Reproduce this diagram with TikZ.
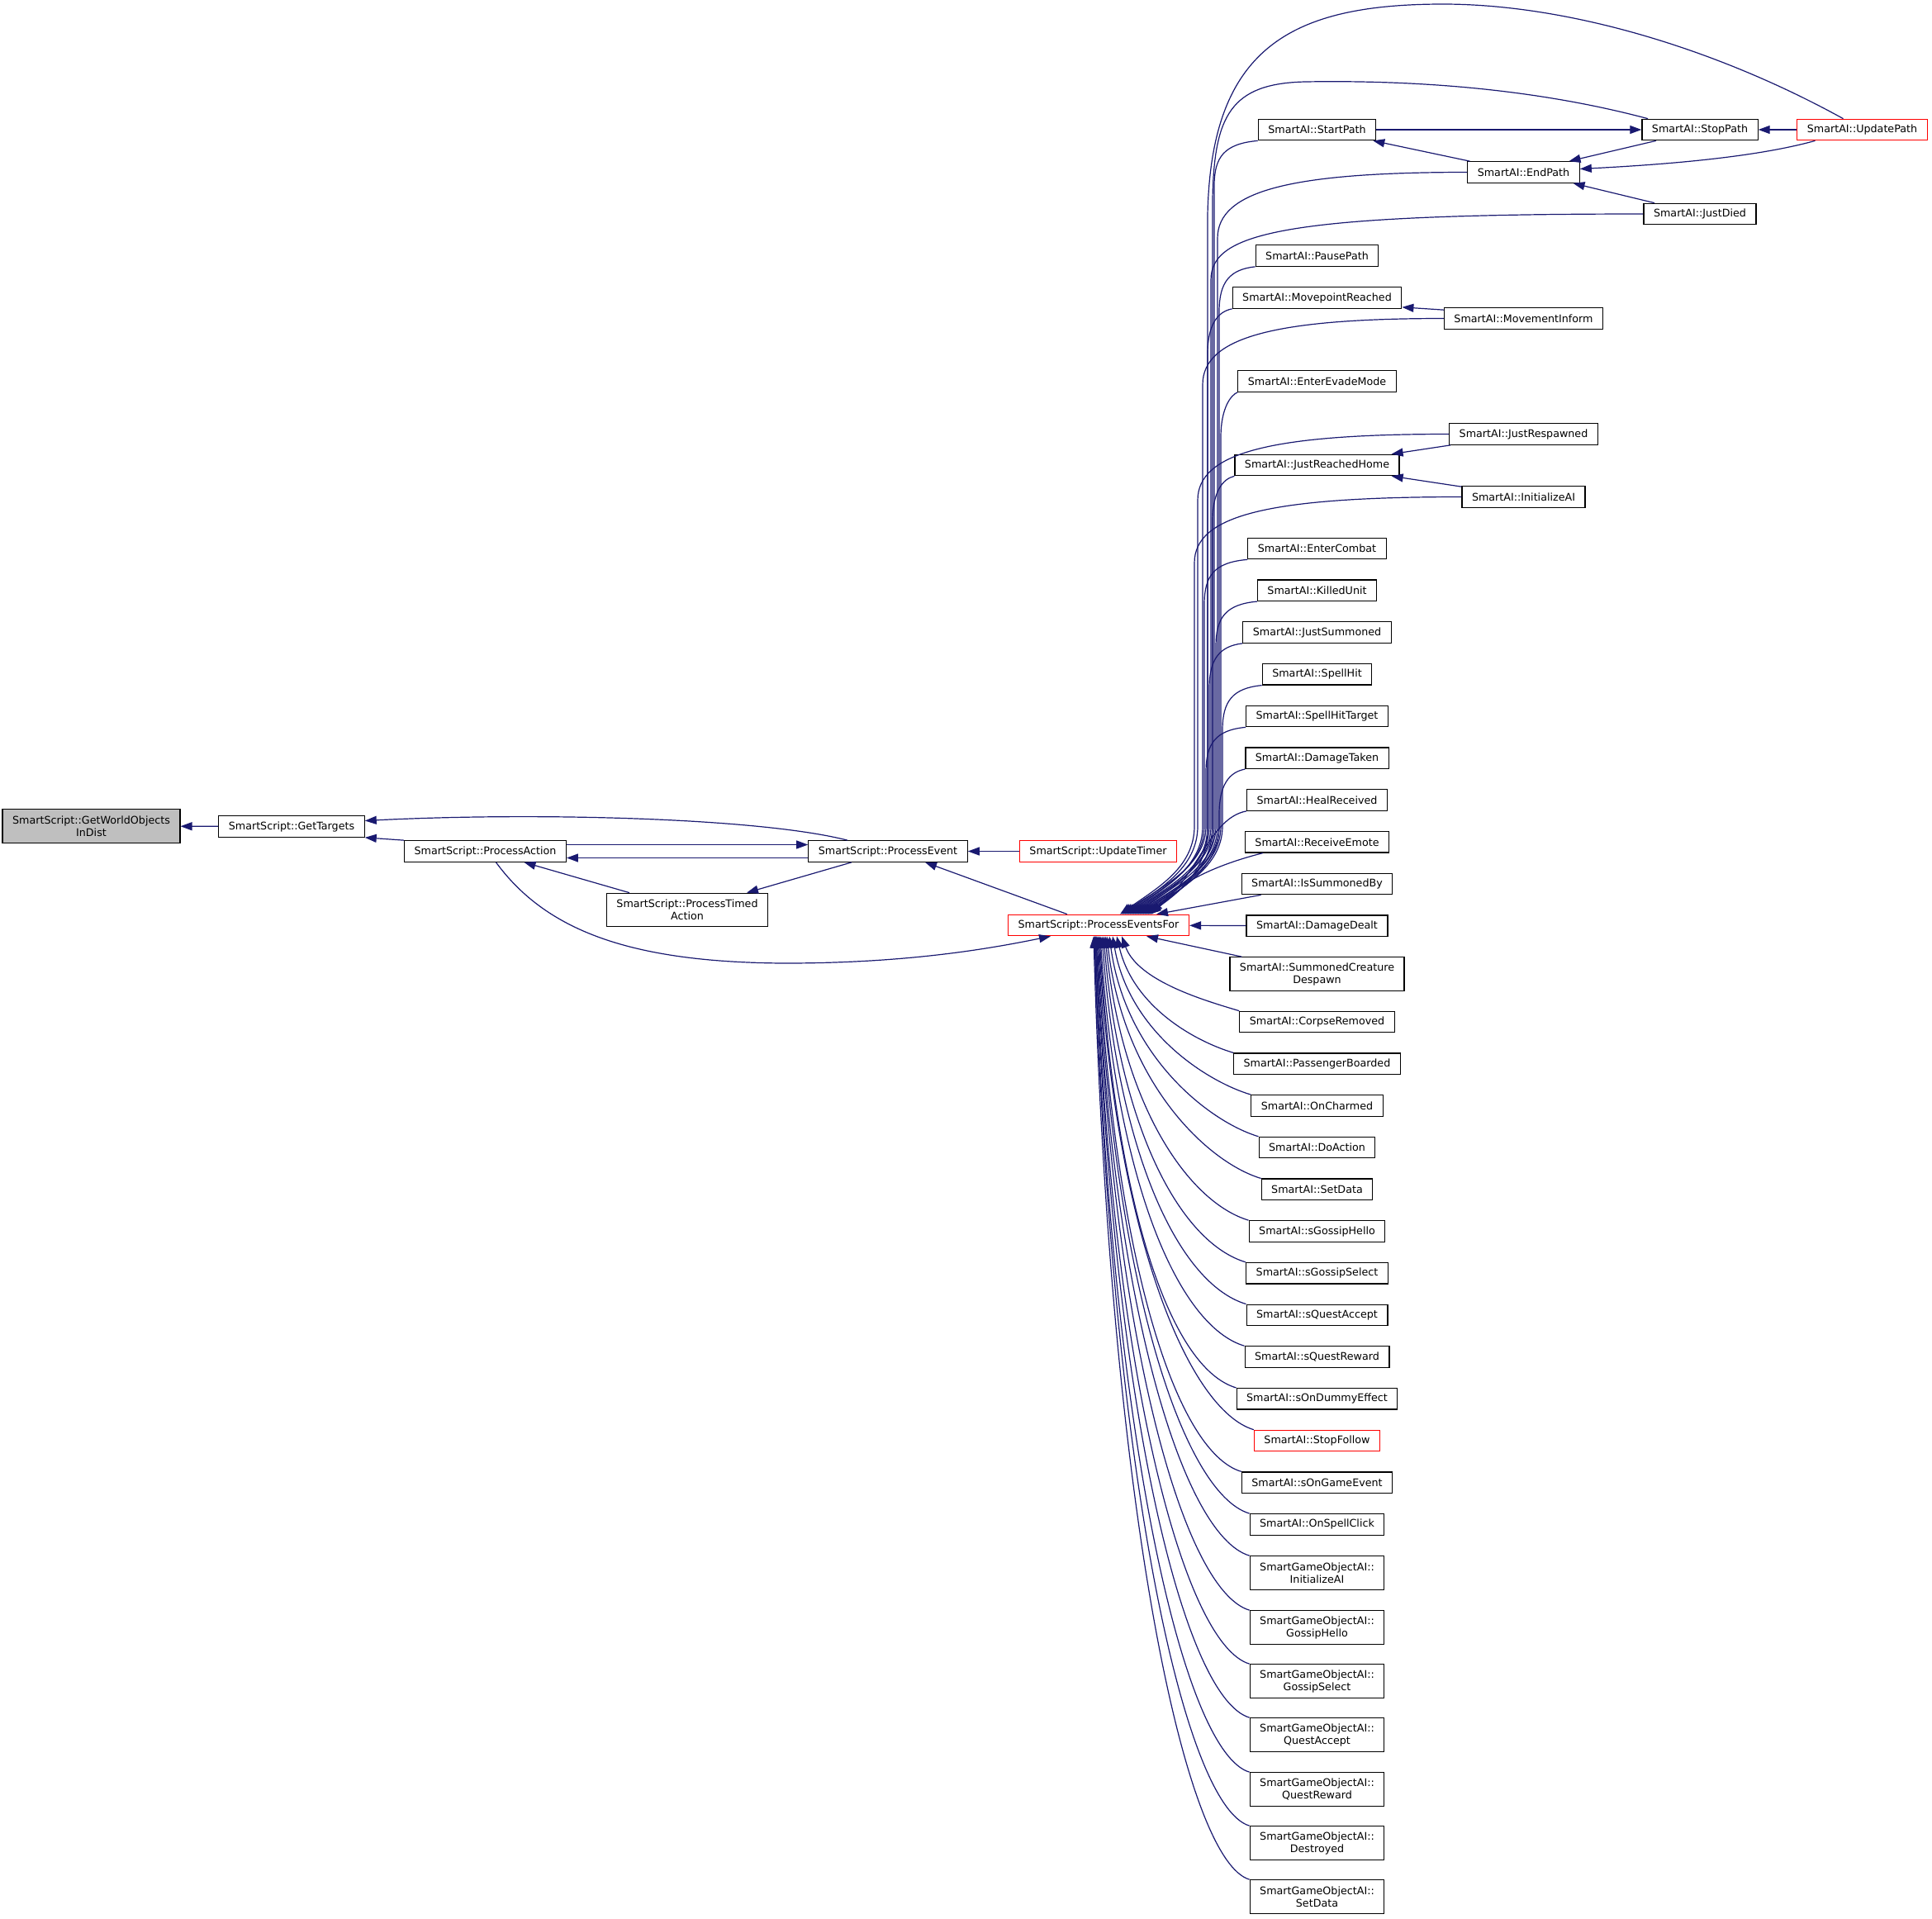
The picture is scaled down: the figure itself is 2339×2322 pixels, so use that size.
\documentclass[tikz,border=0pt]{standalone}
\usepackage{fontspec}
\newfontfamily\dxfont{DejaVu Sans}
\usetikzlibrary{arrows.meta}
\definecolor{edgeblue}{HTML}{191970}
\tikzset{
  fnbox/.style={draw=black, line width=1.2pt, rectangle, inner xsep=12pt, inner ysep=2pt,
    minimum height=25.5pt, align=center, font=\dxfont\fontsize{12.7pt}{15pt}\selectfont},
  twobox/.style={fnbox, minimum height=40.5pt},
  redbox/.style={fnbox, draw=red},
  curbox/.style={twobox, fill=black!25},
  callline/.style={->, draw=edgeblue, line width=1.2pt},
}
\begin{document}
\begin{tikzpicture}[x=1pt, y=-1pt, >={Triangle[length=14pt,width=10pt]}]
    \useasboundingbox (0,0) rectangle (2339,2322);

    % SmartScript side
    \node[curbox] (gwoid) at (110.5,1000) {SmartScript::GetWorldObjects\\InDist};
    \node[fnbox] (gettargets) at (353,1000.5) {SmartScript::GetTargets};
    \node[fnbox] (processaction) at (587.5,1030.5) {SmartScript::ProcessAction};
    \node[fnbox] (processevent) at (1075,1030.5) {SmartScript::ProcessEvent};
    \node[redbox] (updatetimer) at (1329.5,1030.5) {SmartScript::UpdateTimer};
    \node[twobox] (processtimed) at (832,1101.5) {SmartScript::ProcessTimed\\Action};
    \node[redbox] (pef) at (1330,1120) {SmartScript::ProcessEventsFor};

    % path handling
    \node[fnbox] (startpath) at (1594.5,157) {SmartAI::StartPath};
    \node[fnbox] (stoppath) at (2058,157) {SmartAI::StopPath};
    \node[redbox] (updatepath) at (2254.5,157) {SmartAI::UpdatePath};
    \node[fnbox] (endpath) at (1844.5,208.5) {SmartAI::EndPath};
    \node[fnbox] (justdied) at (2058,259) {SmartAI::JustDied};
    \node[fnbox] (pausepath) at (1594.5,309.5) {SmartAI::PausePath};
    \node[fnbox] (movepointreached) at (1594.5,360.5) {SmartAI::MovepointReached};
    \node[fnbox] (movementinform) at (1844.5,385.5) {SmartAI::MovementInform};
    \node[fnbox] (enterevademode) at (1594.5,461.5) {SmartAI::EnterEvadeMode};
    \node[fnbox] (justrespawned) at (1844.5,525.5) {SmartAI::JustRespawned};
    \node[fnbox] (justreachedhome) at (1594.5,563) {SmartAI::JustReachedHome};
    \node[fnbox] (initializeai) at (1844.5,601.5) {SmartAI::InitializeAI};

    % hooks column
    \node[fnbox] (entercombat) at (1594.5,664) {SmartAI::EnterCombat};
    \node[fnbox] (killedunit) at (1594.5,714.75) {SmartAI::KilledUnit};
    \node[fnbox] (justsummoned) at (1594.5,765.5) {SmartAI::JustSummoned};
    \node[fnbox] (spellhit) at (1594.5,816.25) {SmartAI::SpellHit};
    \node[fnbox] (spellhittarget) at (1594.5,867) {SmartAI::SpellHitTarget};
    \node[fnbox] (damagetaken) at (1594.5,917.75) {SmartAI::DamageTaken};
    \node[fnbox] (healreceived) at (1594.5,968.5) {SmartAI::HealReceived};
    \node[fnbox] (receiveemote) at (1594.5,1019.25) {SmartAI::ReceiveEmote};
    \node[fnbox] (issummonedby) at (1594.5,1070) {SmartAI::IsSummonedBy};
    \node[fnbox] (damagedealt) at (1594.5,1120.75) {SmartAI::DamageDealt};
    \node[twobox] (summoneddespawn) at (1594.5,1179) {SmartAI::SummonedCreature\\Despawn};
    \node[fnbox] (corpseremoved) at (1594.5,1237) {SmartAI::CorpseRemoved};
    \node[fnbox] (passengerboarded) at (1594.5,1287.7) {SmartAI::PassengerBoarded};
    \node[fnbox] (oncharmed) at (1594.5,1338.4) {SmartAI::OnCharmed};
    \node[fnbox] (doaction) at (1594.5,1389.1) {SmartAI::DoAction};
    \node[fnbox] (setdata) at (1594.5,1439.8) {SmartAI::SetData};
    \node[fnbox] (sgossiphello) at (1594.5,1490.5) {SmartAI::sGossipHello};
    \node[fnbox] (sgossipselect) at (1594.5,1541.2) {SmartAI::sGossipSelect};
    \node[fnbox] (squestaccept) at (1594.5,1591.9) {SmartAI::sQuestAccept};
    \node[fnbox] (squestreward) at (1594.5,1642.6) {SmartAI::sQuestReward};
    \node[fnbox] (sondummyeffect) at (1594.5,1693.3) {SmartAI::sOnDummyEffect};
    \node[redbox] (stopfollow) at (1594.5,1744) {SmartAI::StopFollow};
    \node[fnbox] (songameevent) at (1594.5,1794.7) {SmartAI::sOnGameEvent};
    \node[fnbox] (onspellclick) at (1594.5,1845.4) {SmartAI::OnSpellClick};
    \node[twobox] (sgoinit) at (1594.5,1904) {SmartGameObjectAI::\\InitializeAI};
    \node[twobox] (sgohello) at (1594.5,1970) {SmartGameObjectAI::\\GossipHello};
    \node[twobox] (sgoselect) at (1594.5,2035) {SmartGameObjectAI::\\GossipSelect};
    \node[twobox] (sgoaccept) at (1594.5,2100) {SmartGameObjectAI::\\QuestAccept};
    \node[twobox] (sgoreward) at (1594.5,2166) {SmartGameObjectAI::\\QuestReward};
    \node[twobox] (sgodestroyed) at (1594.5,2231) {SmartGameObjectAI::\\Destroyed};
    \node[twobox] (sgosetdata) at (1594.5,2296) {SmartGameObjectAI::\\SetData};

    % calls on the left
    \draw[callline] (gettargets) -- (gwoid);
    \draw[callline] (processaction.north west) -- (gettargets.south east);
    \draw[callline] ([xshift=-49pt]processevent.north) .. controls (920,990) and (650,983) .. ([yshift=7pt]gettargets.east);
    \draw[callline] ([yshift=8pt]processaction.east) -- ([yshift=8pt]processevent.west);
    \draw[callline] ([yshift=-8pt]processevent.west) -- ([yshift=-8pt]processaction.east);
    \draw[callline] ([xshift=-70pt]processtimed.north) -- ([xshift=47pt]processaction.south);
    \draw[callline] ([xshift=-44pt]processevent.south) -- ([xshift=72pt]processtimed.north);
    \draw[callline] (updatetimer) -- (processevent);
    \draw[callline] ([xshift=-38pt]pef.north) -- ([xshift=45pt]processevent.south);
    \draw[callline] ([xshift=13pt]processaction.south) .. controls (660,1125) and (760,1165) .. (950,1166)
        .. controls (1100,1166) and (1200,1148) .. ([xshift=-58pt]pef.south);

    % calls between the path nodes
    \draw[callline] (startpath) -- (stoppath);
    \draw[callline] (updatepath) -- (stoppath);
    \draw[callline] ([xshift=-65pt]endpath.north) -- ([xshift=-4pt]startpath.south east);
    \draw[callline] ([xshift=-53pt]stoppath.south) -- ([xshift=55pt]endpath.north);
    \draw[callline] ([xshift=-57pt]updatepath.south) .. controls (2120,192) and (2000,200) .. ([yshift=4pt]endpath.east);
    \draw[callline] ([xshift=-55pt]justdied.north) -- ([xshift=60pt]endpath.south);
    \draw[callline] ([yshift=-3pt]movementinform.north west) -- ([yshift=2pt]movepointreached.south east);
    \draw[callline] ([xshift=2pt]justrespawned.south west) -- ([xshift=-10pt]justreachedhome.north east);
    \draw[callline] ([yshift=-1pt]initializeai.north west) -- ([xshift=-10pt]justreachedhome.south east);

    % fan into ProcessEventsFor from above
    \draw[callline] ([xshift=-23pt]updatepath.north) .. controls (2080,60) and (1900,5) .. (1747,5)
        .. controls (1560,5) and (1466,60) .. (1462,260) -- (1462,1000)
        .. controls (1462,1050) and (1435,1075) .. ([xshift=60pt]pef.north);
    \draw[callline] ([xshift=-63pt]stoppath.north) .. controls (1850,105) and (1700,97) .. (1580,99)
        .. controls (1490,101) and (1470,140) .. (1468,240) -- (1468,1000)
        .. controls (1468,1050) and (1433,1075) .. ([xshift=58pt]pef.north);
    \foreach \n/\y/\b/\d in {justdied/259/1466/40, endpath/208.5/1474/48, movementinform/385.5/1456/34,
        justrespawned/525.5/1450/30, initializeai/601.5/1446/26}
      \draw[callline] (\n.west) .. controls (\b+90,\y) and (\b,\y+22) .. (\b,\y+80) -- (\b,1000)
          .. controls (\b,1050) and (1375+\d,1075) .. ([xshift=\d pt]pef.north);
    \foreach \n/\y/\b/\d in {startpath/170/1470/52, pausepath/322.25/1476/56, movepointreached/373.25/1462/44,
        enterevademode/474.25/1478/50, justreachedhome/575.75/1468/38, entercombat/676.75/1458/32,
        killedunit/727.5/1472/42, justsummoned/778.25/1464/36, spellhit/829/1480/54,
        spellhittarget/879.75/1460/28, damagetaken/930.5/1476/46}
      \draw[callline] (\n.south west) .. controls (\b+12,\y+4) and (\b,\y+20) .. (\b,\y+55) -- (\b,1000)
          .. controls (\b,1050) and (1375+\d,1075) .. ([xshift=\d pt]pef.north);
    \draw[callline] (healreceived.south west) .. controls (1465,990) and (1450,1060) .. ([xshift=62pt]pef.north);
    \draw[callline] ([xshift=22pt]receiveemote.south west) .. controls (1480,1045) and (1430,1065) .. ([xshift=64pt]pef.north);
    \draw[callline] ([xshift=24pt]issummonedby.south west) -- ([xshift=70pt]pef.north);
    \draw[callline] (damagedealt) -- (pef);

    % fan into ProcessEventsFor from below
    \draw[callline] ([xshift=15pt]summoneddespawn.north west) -- ([xshift=58pt]pef.south);
    \foreach \n/\r/\d in {corpseremoved/91/28, passengerboarded/142/22, oncharmed/193/17, doaction/243/13,
        setdata/294/10, sgossiphello/345/8, sgossipselect/395/6, squestaccept/446/4, squestreward/497/2,
        sondummyeffect/547/1, stopfollow/598/0, songameevent/649/-1, onspellclick/700/-2, sgoinit/750/-3,
        sgohello/817/-3, sgoselect/882/-4, sgoaccept/947/-4, sgoreward/1013/-5, sgodestroyed/1078/-5,
        sgosetdata/1143/-6}
      \draw[callline] (\n.north west) .. controls +({-min(80,30+0.12*\r)},{-0.3*min(80,30+0.12*\r)})
          and +(20,{0.6*\r}) .. ([xshift=\d pt]pef.south);
\end{tikzpicture}
\end{document}
